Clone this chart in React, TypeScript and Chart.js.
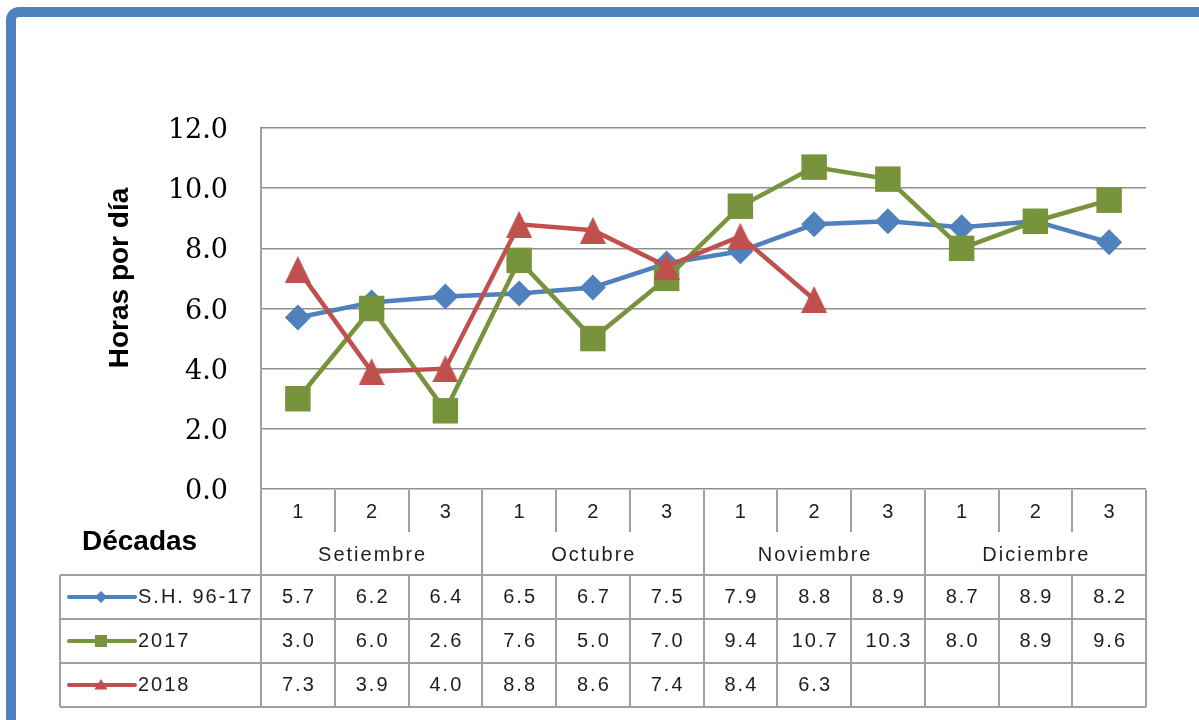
import React, { useEffect, useRef } from 'react';
import { Chart, registerables } from 'chart.js';

Chart.register(...registerables);

const decades = ['1', '2', '3', '1', '2', '3', '1', '2', '3', '1', '2', '3'];
const months = ['Setiembre', 'Octubre', 'Noviembre', 'Diciembre'];
const seriesNames = ['S.H. 96-17', '2017', '2018'];
const shValues = [5.7, 6.2, 6.4, 6.5, 6.7, 7.5, 7.9, 8.8, 8.9, 8.7, 8.9, 8.2];
const values2017 = [3.0, 6.0, 2.6, 7.6, 5.0, 7.0, 9.4, 10.7, 10.3, 8.0, 8.9, 9.6];
const values2018: (number | null)[] = [7.3, 3.9, 4.0, 8.8, 8.6, 7.4, 8.4, 6.3, null, null, null, null];
const yMin = 0;
const yMax = 12;
const yStep = 2;
const yTitle = 'Horas por día';
const tableTitle = 'Décadas';

const BLUE = '#4F81BD';
const GREEN = '#77933C';
const RED = '#C0504D';
const GRID = '#8f8f8f';
const TABLE_LINE = '#a0a0a0';
const TEXT = '#1e1e1e';

const seriesColors = [BLUE, GREEN, RED];
const seriesStyles = ['diamond', 'square', 'triangle'];
const seriesData = [shValues, values2017, values2018];

function drawMarker(ctx: CanvasRenderingContext2D, style: string, x: number, y: number, s: number, color: string) {
  ctx.save();
  ctx.fillStyle = color;
  ctx.beginPath();
  if (style === 'diamond') {
    ctx.moveTo(x, y - s);
    ctx.lineTo(x + s, y);
    ctx.lineTo(x, y + s);
    ctx.lineTo(x - s, y);
  } else if (style === 'square') {
    ctx.rect(x - s, y - s, 2 * s, 2 * s);
  } else {
    ctx.moveTo(x, y - s);
    ctx.lineTo(x + s * 1.1, y + s * 0.75);
    ctx.lineTo(x - s * 1.1, y + s * 0.75);
  }
  ctx.closePath();
  ctx.fill();
  ctx.restore();
}

function makeTriangle(w: number, h: number, color: string): HTMLCanvasElement {
  const c = document.createElement('canvas');
  c.width = w;
  c.height = h;
  const g = c.getContext('2d')!;
  g.fillStyle = color;
  g.beginPath();
  g.moveTo(w / 2, 0);
  g.lineTo(w, h);
  g.lineTo(0, h);
  g.closePath();
  g.fill();
  return c;
}

const excelPlugin = {
  id: 'excelTable',
  afterDraw(chart: any) {
    const ctx: CanvasRenderingContext2D = chart.ctx;
    const ca = chart.chartArea;
    const xs = chart.scales.x;
    const L = ca.left;
    const R = ca.right;
    const n = decades.length;
    const colW = (R - L) / n;
    const top = ca.bottom + 1;
    const subBottom = top + 42;
    const headBottom = top + 85;
    const rowH = 44;
    const tableBottom = headBottom + rowH * seriesNames.length;
    const legendLeft = 60;

    ctx.save();
    // outer frame
    ctx.strokeStyle = BLUE;
    ctx.lineWidth = 10;
    ctx.beginPath();
    (ctx as any).roundRect(11, 12, 1260, 800, 8);
    ctx.stroke();

    // table lines
    ctx.strokeStyle = TABLE_LINE;
    ctx.lineWidth = 2;
    ctx.beginPath();
    ctx.moveTo(L, ca.top);
    ctx.lineTo(L, tableBottom);
    for (let i = 1; i <= n; i++) {
      const x = Math.round(L + colW * i);
      if (i % 3 === 0) {
        ctx.moveTo(x, top);
        ctx.lineTo(x, tableBottom);
      } else {
        ctx.moveTo(x, top);
        ctx.lineTo(x, subBottom);
        ctx.moveTo(x, headBottom);
        ctx.lineTo(x, tableBottom);
      }
    }
    for (let r = 0; r <= seriesNames.length; r++) {
      const y = headBottom + rowH * r;
      ctx.moveTo(legendLeft, y);
      ctx.lineTo(R, y);
    }
    ctx.moveTo(legendLeft, headBottom);
    ctx.lineTo(legendLeft, tableBottom);
    ctx.stroke();

    // texts
    ctx.fillStyle = TEXT;
    ctx.font = '20px "Liberation Sans"';
    (ctx as any).letterSpacing = '2px';
    ctx.textAlign = 'center';
    ctx.textBaseline = 'middle';
    decades.forEach((d, i) => {
      ctx.fillText(d, xs.getPixelForValue(i) + 1, top + 22);
    });
    months.forEach((m, k) => {
      const cx = L + colW * (3 * k + 1.5);
      ctx.fillText(m, cx + 1, top + 65);
    });
    seriesData.forEach((vals, r) => {
      const cy = headBottom + rowH * (r + 0.5);
      vals.forEach((v, i) => {
        if (v === null || v === undefined) return;
        ctx.fillText((v as number).toFixed(1), xs.getPixelForValue(i) + 1, cy);
      });
    });

    // legend keys
    ctx.textAlign = 'left';
    seriesNames.forEach((name, r) => {
      const cy = headBottom + rowH * (r + 0.5);
      ctx.strokeStyle = seriesColors[r];
      ctx.lineWidth = 4;
      ctx.lineCap = 'round';
      ctx.beginPath();
      ctx.moveTo(69, cy);
      ctx.lineTo(135, cy);
      ctx.stroke();
      drawMarker(ctx, seriesStyles[r], 101, cy, 6, seriesColors[r]);
      ctx.fillStyle = TEXT;
      ctx.fillText(name, 138, cy);
    });

    // Décadas
    (ctx as any).letterSpacing = '0px';
    ctx.fillStyle = '#000';
    ctx.font = 'bold 28px "Liberation Sans"';
    ctx.textAlign = 'left';
    ctx.textBaseline = 'alphabetic';
    ctx.fillText(tableTitle, 82, 550);

    // y title
    ctx.save();
    ctx.translate(128, 278);
    ctx.rotate(-Math.PI / 2);
    ctx.textAlign = 'center';
    ctx.textBaseline = 'alphabetic';
    ctx.fillText(yTitle, 0, 0);
    ctx.restore();

    ctx.restore();
  },
};

export default function App() {
  const ref = useRef<HTMLCanvasElement | null>(null);
  useEffect(() => {
    if (!ref.current) return;
    const tri = makeTriangle(26, 27, RED);
    const chart = new Chart(ref.current, {
      type: 'line',
      data: {
        labels: decades.map((d, i) => `${months[Math.floor(i / 3)]} ${d}`),
        datasets: [
          {
            label: seriesNames[0],
            data: shValues,
            borderColor: BLUE,
            backgroundColor: BLUE,
            borderWidth: 4.5,
            pointStyle: 'rectRot',
            pointRadius: 13,
            pointBorderWidth: 0,
            tension: 0,
            order: 3,
          },
          {
            label: seriesNames[1],
            data: values2017,
            borderColor: GREEN,
            backgroundColor: GREEN,
            borderWidth: 4.5,
            pointStyle: 'rect',
            pointRadius: 18,
            pointBorderWidth: 0,
            tension: 0,
            order: 2,
          },
          {
            label: seriesNames[2],
            data: values2018,
            borderColor: RED,
            backgroundColor: RED,
            borderWidth: 4.5,
            pointStyle: tri,
            pointRadius: 14,
            tension: 0,
            order: 1,
          },
        ],
      },
      options: {
        animation: false,
        responsive: false,
        events: [],
        layout: { padding: { top: 128, right: 53, left: 0, bottom: 0 } },
        plugins: { legend: { display: false }, tooltip: { enabled: false } },
        scales: {
          x: {
            type: 'category',
            offset: true,
            grid: { display: false },
            border: { display: false },
            ticks: { display: false },
            afterFit: (s: any) => {
              s.height = 231;
            },
          },
          y: {
            min: yMin,
            max: yMax,
            grid: { color: GRID, lineWidth: 1.5, drawTicks: false },
            border: { display: true, color: GRID, width: 2 },
            ticks: {
              stepSize: yStep,
              padding: 33,
              labelOffset: 3,
              color: '#000',
              font: { family: '"DejaVu Serif"', size: 27 },
              callback: (v: any) => Number(v).toFixed(1),
            },
            afterFit: (s: any) => {
              s.width = 261;
            },
          },
        },
      },
      plugins: [excelPlugin],
    } as any);
    return () => chart.destroy();
  }, []);
  return (
    <div style={{ position: 'absolute', left: 0, top: 0, width: 1199, height: 720, background: '#fff' }}>
      <canvas ref={ref} width={1199} height={720} />
    </div>
  );
}
